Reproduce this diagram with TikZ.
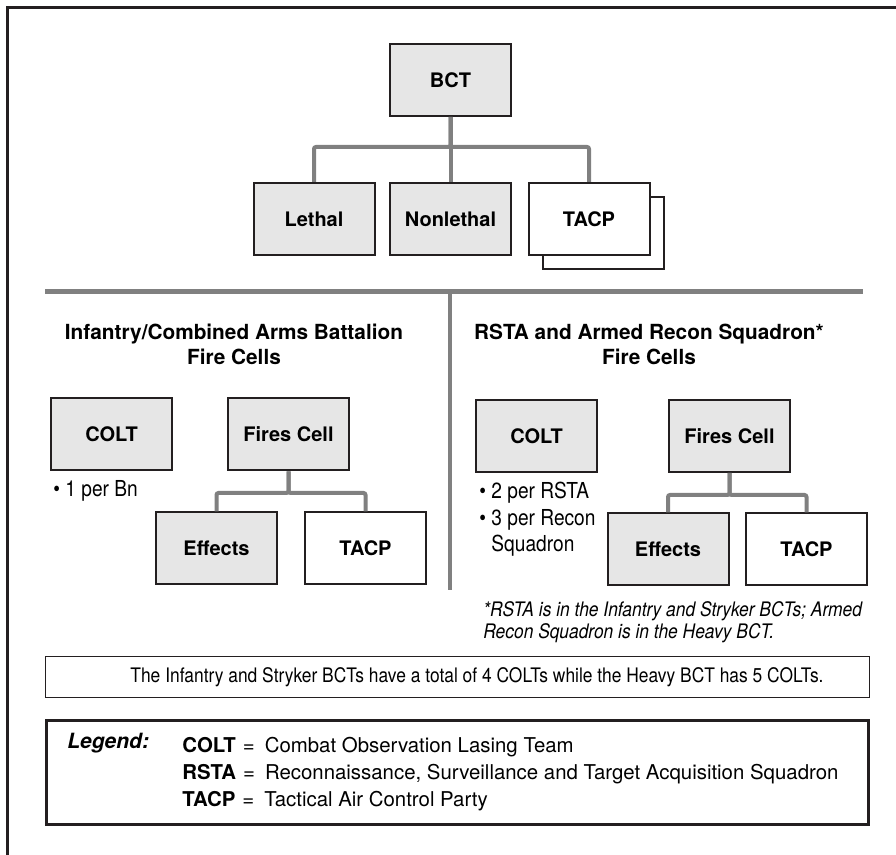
\documentclass[tikz,border=0pt]{standalone}
\usepackage{fontspec}
\setmainfont{TeX Gyre Heros}
\newfontfamily\narrowfont{TeX Gyre Heros}[FakeStretch=0.87]
\usetikzlibrary{positioning}
\definecolor{boxgray}{HTML}{E6E6E6}
\definecolor{linegray}{HTML}{808080}
\definecolor{ink}{HTML}{231F20}

\begin{document}
\begin{tikzpicture}[x=0.5pt,y=-0.5pt,
    unit/.style={draw=ink, line width=1pt, fill=boxgray, minimum width=60.5pt, minimum height=36pt, inner sep=0pt, font=\fontsize{10}{12}\selectfont\bfseries},
    party/.style={unit, fill=white},
    link/.style={draw=linegray, line width=2pt, rounded corners=1pt},
    divider/.style={draw=linegray, line width=2.5pt},
    heading/.style={align=center, inner sep=0pt, font=\fontsize{10.4}{12.5}\selectfont\bfseries},
    bullets/.style={align=left, inner sep=0pt, font=\narrowfont\fontsize{11}{13.25}\selectfont}]
    \useasboundingbox (0,0) rectangle (896,855);

    % Outer frame
    \draw[ink, line width=1.25pt] (7.5,880) -- (7.5,7.5) -- (920,7.5);

    % Brigade level
    \node[unit] (bct) at (450.5,80) {BCT};
    \node[unit] (lethal) at (314,219) {Lethal};
    \node[unit] (nonlethal) at (450.5,219) {Nonlethal};
    \node[party] (tacpback) at (603,233) {};
    \node[party] (tacp) at (589,219) {TACP};
    \foreach \n in {lethal, nonlethal, tacp}
      \draw[link] (bct.south) -- ++(0,30) -| (\n.north);

    % Dividers
    \coordinate (divleft) at (45,292);
    \coordinate (divright) at (863,292);
    \coordinate (divtop) at (450,292);
    \coordinate (divbottom) at (450,590);
    \draw[divider] (divleft) -- (divright);
    \draw[link] (divtop) -- (divbottom);

    % Battalion fire cells
    \node[heading] (lefthead) at (234,344) {Infantry/Combined Arms Battalion\\Fire Cells};
    \node[unit] (leftcolt) at (111.5,434.5) {COLT};
    \node[unit] (leftfires) at (288.5,434.5) {Fires Cell};
    \node[unit] (lefteffects) at (216.5,548.5) {Effects};
    \node[party] (lefttacp) at (365.5,548.5) {TACP};
    \node[bullets, anchor=west] (leftcount) at (53,491) {\textbullet\ 1 per Bn};
    \foreach \n in {lefteffects, lefttacp}
      \draw[link] (leftfires.south) -- ++(0,21.5) -| (\n.north);

    % Squadron fire cells
    \node[heading] (righthead) at (649,344) {RSTA and Armed Recon Squadron*\\Fire Cells};
    \node[unit] (rightcolt) at (536.5,436) {COLT};
    \node[unit] (rightfires) at (729.5,436) {Fires Cell};
    \node[unit] (righteffects) at (668,549.5) {Effects};
    \node[party] (righttacp) at (806.5,549.5) {TACP};
    \node[bullets, anchor=north west] (rightcount) at (479,482) {\textbullet\ 2 per RSTA\\\textbullet\ 3 per Recon\\\phantom{\textbullet\ }Squadron};
    \foreach \n in {righteffects, righttacp}
      \draw[link] (rightfires.south) -- ++(0,22) -| (\n.north);

    % Footnote and note
    \node[anchor=north west, align=left, inner sep=0pt, font=\narrowfont\itshape\fontsize{10}{11}\selectfont] (footnote) at (483,601) {*RSTA is in the Infantry and Stryker BCTs; Armed\\Recon Squadron is in the Heavy BCT.};
    \node[draw=ink, line width=0.6pt, minimum width=412pt, minimum height=20.5pt, inner sep=0pt] (notebox) at (457.5,677) {};
    \node[inner sep=0pt, font=\narrowfont\fontsize{10}{12}\selectfont] (notetext) at (477,677) {The Infantry and Stryker BCTs have a total of 4 COLTs while the Heavy BCT has 5 COLTs.};

    % Legend
    \node[draw=ink, line width=1.3pt, minimum width=411.2pt, minimum height=52.2pt, inner sep=0pt] (legendbox) at (457.5,772.5) {};
    \node[anchor=west, inner sep=0pt, font=\fontsize{10.5}{12}\selectfont\bfseries\itshape] (legendtitle) at (67,743) {Legend:};
    \foreach \y/\abbr/\full in {747/COLT/{Combat Observation Lasing Team}, 774/RSTA/{Reconnaissance, Surveillance and Target Acquisition Squadron}, 801/TACP/{Tactical Air Control Party}}
      \node[anchor=west, inner sep=0pt, font=\fontsize{10.2}{12}\selectfont] (legend\abbr) at (182,\y) {\textbf{\abbr}\hspace{3.5pt}=\hspace{5pt}\full};
\end{tikzpicture}
\end{document}
